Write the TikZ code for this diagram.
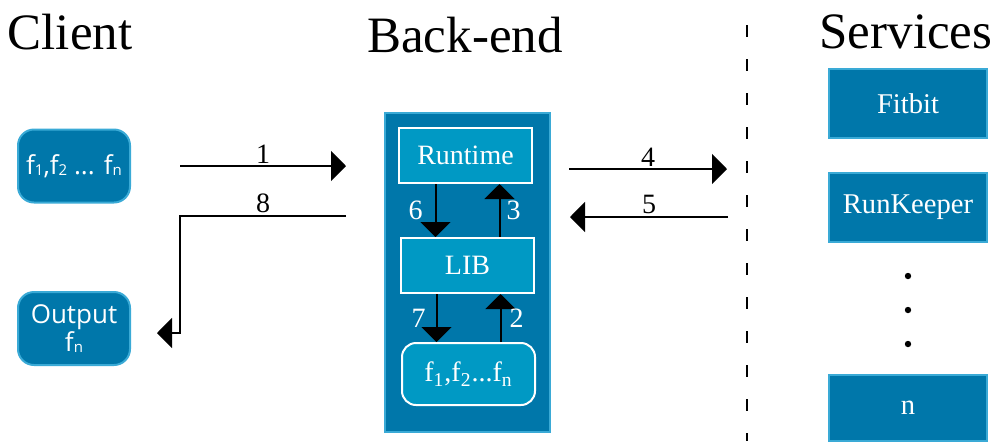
\documentclass[tikz,border=0pt]{standalone}
\usepackage{fontspec}
\setmainfont{Liberation Serif}
\newfontfamily\clientfont{Open Sans}
\usetikzlibrary{arrows.meta}
\definecolor{svcblue}{HTML}{0077AA}
\definecolor{libblue}{HTML}{0099C4}
\definecolor{edgeblue}{HTML}{3AAAD6}
\newcommand{\lowidx}[1]{\raisebox{-0.8pt}{\fontsize{7.5}{8}\selectfont #1}}
\tikzset{
  title/.style={font=\fontsize{25.5}{30}\selectfont},
  clientbox/.style={rectangle, rounded corners=8pt, fill=svcblue, draw=edgeblue, line width=1pt, text=white, align=center, font=\clientfont\fontsize{13}{15}\selectfont, minimum width=56pt, minimum height=36.5pt},
  libbox/.style={rectangle, fill=libblue, draw=white, line width=1pt, text=white, font=\fontsize{14}{16}\selectfont, minimum width=66.5pt, minimum height=27.5pt},
  svcbox/.style={rectangle, fill=svcblue, draw=edgeblue, line width=0.8pt, text=white, font=\fontsize{14.3}{16}\selectfont, minimum width=79pt, minimum height=34.5pt},
  flow/.style={line width=1pt, -{Triangle[length=7.5pt, width=15pt]}},
  num/.style={font=\fontsize{14}{16}\selectfont, inner sep=1pt}
}
\begin{document}
\begin{tikzpicture}[x=0.5pt, y=-0.5pt]
\useasboundingbox (0,0) rectangle (992,441);
\node [title] (client) at (70,32) {Client};
\node [title] (backend) at (465,35) {Back-end};
\node [title] (services) at (906,32) {Services};
\node [clientbox] (input) at (74,166) {f\lowidx{1},f\lowidx{2} ... f\lowidx{n}};
\node [clientbox] (output) at (74,328.5) {Output\\[-1pt]f\lowidx{n}};
\node [rectangle, fill=svcblue, draw=edgeblue, line width=0.8pt, minimum width=82.5pt, minimum height=159.5pt] (server) at (467.5,272.5) {};
\node [libbox] (runtime) at (465.5,155.5) {Runtime};
\node [libbox] (lib) at (467.5,265.5) {LIB};
\node [libbox, rounded corners=7pt, minimum height=31pt] (funcs) at (468.5,374) {f\textsubscript{1},f\textsubscript{2}...f\textsubscript{n}};
\node [svcbox] (fitbit) at (908,103.5) {Fitbit};
\node [svcbox] (runkeeper) at (908,207.5) {RunKeeper};
\node [svcbox, minimum height=33pt] (nserv) at (908,408) {n};
\foreach \y in {276,310,344} \fill (908,\y) circle (1.6pt);
\coordinate (req1) at (180,166);
\coordinate (req2) at (346,166);
\coordinate (res1) at (346,216);
\coordinate (res2) at (180,333);
\coordinate (res3) at (157,333);
\coordinate (call1) at (569,169);
\coordinate (call2) at (727,169);
\coordinate (ans1) at (728,217);
\coordinate (ans2) at (570,217);
\draw [flow] (req1) -- node [num, above] {1} (req2);
\draw [flow] (res1) -- node [num, above] {8} (res1 -| res2) -- (res2) -- (res3);
\draw [flow] (call1) -- node [num, above] {4} (call2);
\draw [flow] (ans1) -- node [num, above] {5} (ans2);
\draw [flow] ([xshift=-15pt]runtime.south) -- node [num, left=5pt, text=white] {6} ([xshift=-16pt]lib.north);
\draw [flow] ([xshift=16pt]lib.north) -- node [num, right=2pt, text=white] {3} ([xshift=17pt]runtime.south);
\draw [flow] ([xshift=-15.5pt]lib.south) -- node [num, left=4pt, text=white] {7} ([xshift=-16pt]funcs.north);
\draw [flow] ([xshift=16pt]funcs.north) -- node [num, right=3pt, text=white] {2} ([xshift=16.5pt]lib.south);
\draw [line width=1pt, dash pattern=on 6pt off 11pt] (747,25) -- (747,441);
\end{tikzpicture}
\end{document}
